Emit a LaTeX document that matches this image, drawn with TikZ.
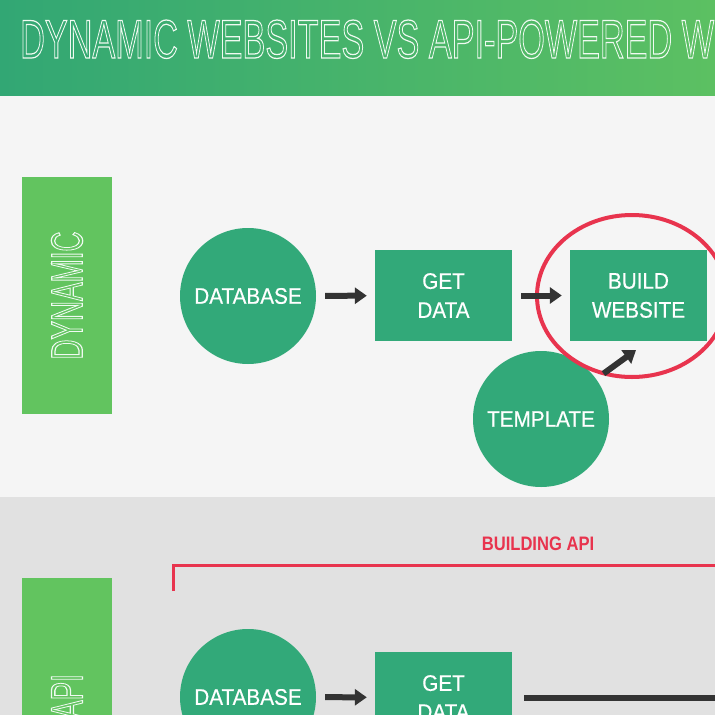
\documentclass[tikz,border=0pt]{standalone}
\usepackage{fontspec}
\usepackage{graphicx}
\setmainfont{Liberation Sans}
\newfontfamily\nodefont[FakeStretch=0.92,FakeBold=0.5]{Liberation Sans}
\newfontfamily\redfont[FakeStretch=0.85]{Liberation Sans}
\newfontfamily\titlefont{Liberation Sans}
\usetikzlibrary{arrows.meta,calc,shapes.geometric}
\definecolor{hdrL}{RGB}{50,167,116}
\definecolor{hdrR}{RGB}{92,192,98}
\definecolor{bgtop}{RGB}{245,245,245}
\definecolor{bgbot}{RGB}{225,225,225}
\definecolor{nodegreen}{RGB}{50,169,121}
\definecolor{labelgreen}{RGB}{98,196,95}
\definecolor{accent}{RGB}{232,52,78}
\definecolor{arrowgray}{RGB}{51,51,51}
\definecolor{outlinewhite}{RGB}{240,250,242}
\newcommand{\outlinedtext}[1]{{\color{outlinewhite}\special{pdf:literal direct 1 Tr 1.2 w 0.94 0.98 0.95 RG}#1\special{pdf:literal direct 0 Tr}}}
\newcommand{\labelsize}{\titlefont\fontsize{43}{50}\selectfont}
\tikzset{
  circnode/.style={circle, fill=nodegreen, minimum size=136pt, inner sep=0pt, text=white,
    font=\nodefont\fontsize{22.5}{29}\selectfont},
  boxnode/.style={rectangle, fill=nodegreen, minimum width=137pt, minimum height=91pt, inner sep=0pt,
    text=white, align=center, font=\nodefont\fontsize{22.5}{29}\selectfont},
  labelbox/.style={rectangle, fill=labelgreen, minimum width=90pt, minimum height=237pt, inner sep=0pt, text=outlinewhite},
  flow/.style={line width=6pt, draw=arrowgray, -{Triangle[length=12pt,width=16pt]}, shorten <=9pt, shorten >=8pt},
  redline/.style={draw=accent, line width=3pt},
}
\begin{document}
\begin{tikzpicture}[x=1pt,y=-1pt]
\useasboundingbox (0,0) rectangle (715,715);
\clip (0,0) rectangle (715,715);
% backgrounds
\fill[bgtop] (0,95) rectangle (715,497);
\fill[bgbot] (0,497) rectangle (715,715);
\shade[left color=hdrL, right color=hdrR] (0,0) rectangle (715,95);
% title
\node[anchor=base west, inner sep=0pt, text=outlinewhite] (title) at (20,58)
  {\sbox0{\titlefont\fontsize{53}{60}\selectfont DYNAMIC WEBSITES VS API-POWERED}%
   \sbox2{\titlefont\fontsize{53}{60}\selectfont\color{outlinewhite}DYNAMIC WEBSITES VS API-POWERED WEBSITES}%
   \outlinedtext{\resizebox{\dimexpr652pt*\wd2/\wd0\relax}{38pt}{\usebox2}}};
% dynamic section
\node[labelbox] (dynbox) at (67,295.5)
  {\rotatebox{90}{\resizebox{128pt}{31pt}{\outlinedtext{\labelsize DYNAMIC}}}};
\node[circnode] (db) at (248,296) {DATABASE};
\node[boxnode] (get) at (443.5,295.5) {GET\\DATA};
\node[boxnode] (build) at (638.5,295.5) {BUILD\\WEBSITE};
\node[circnode] (tmpl) at (541,419) {TEMPLATE};
\node[ellipse, draw=accent, line width=4pt, minimum width=190pt, minimum height=162pt, inner sep=0pt] (focus) at (632,296) {};
\coordinate (tmpltip) at (636,350);
\draw[flow] (db) -- (get);
\draw[flow] (get) -- (build);
\draw[flow, shorten >=0pt, shorten <=9pt] (tmpl) -- (tmpltip);
% api section
\node[labelbox] (apibox) at (67,696.5)
  {\rotatebox{90}{\sbox0{\labelsize DYNAMIC}\sbox2{\labelsize API}%
    \resizebox{\dimexpr128pt*\wd2/\wd0\relax}{31pt}{\outlinedtext{\usebox2}}}};
\node[text=accent, font=\redfont\bfseries\fontsize{19.5}{22}\selectfont] (buildapi) at (538,544) {BUILDING API};
\coordinate (brA) at (173,591);
\coordinate (brB) at (173,565);
\coordinate (brC) at (725,565);
\draw[redline] (brA) -- (brB) -- (brC);
\node[circnode] (db2) at (248,697) {DATABASE};
\node[boxnode] (get2) at (443.5,697.5) {GET\\DATA};
\coordinate (lineend) at (725,697.5);
\draw[flow] (db2) -- (get2);
\draw[line width=6pt, draw=arrowgray, shorten <=12pt] (get2) -- (lineend);
\end{tikzpicture}
\end{document}
